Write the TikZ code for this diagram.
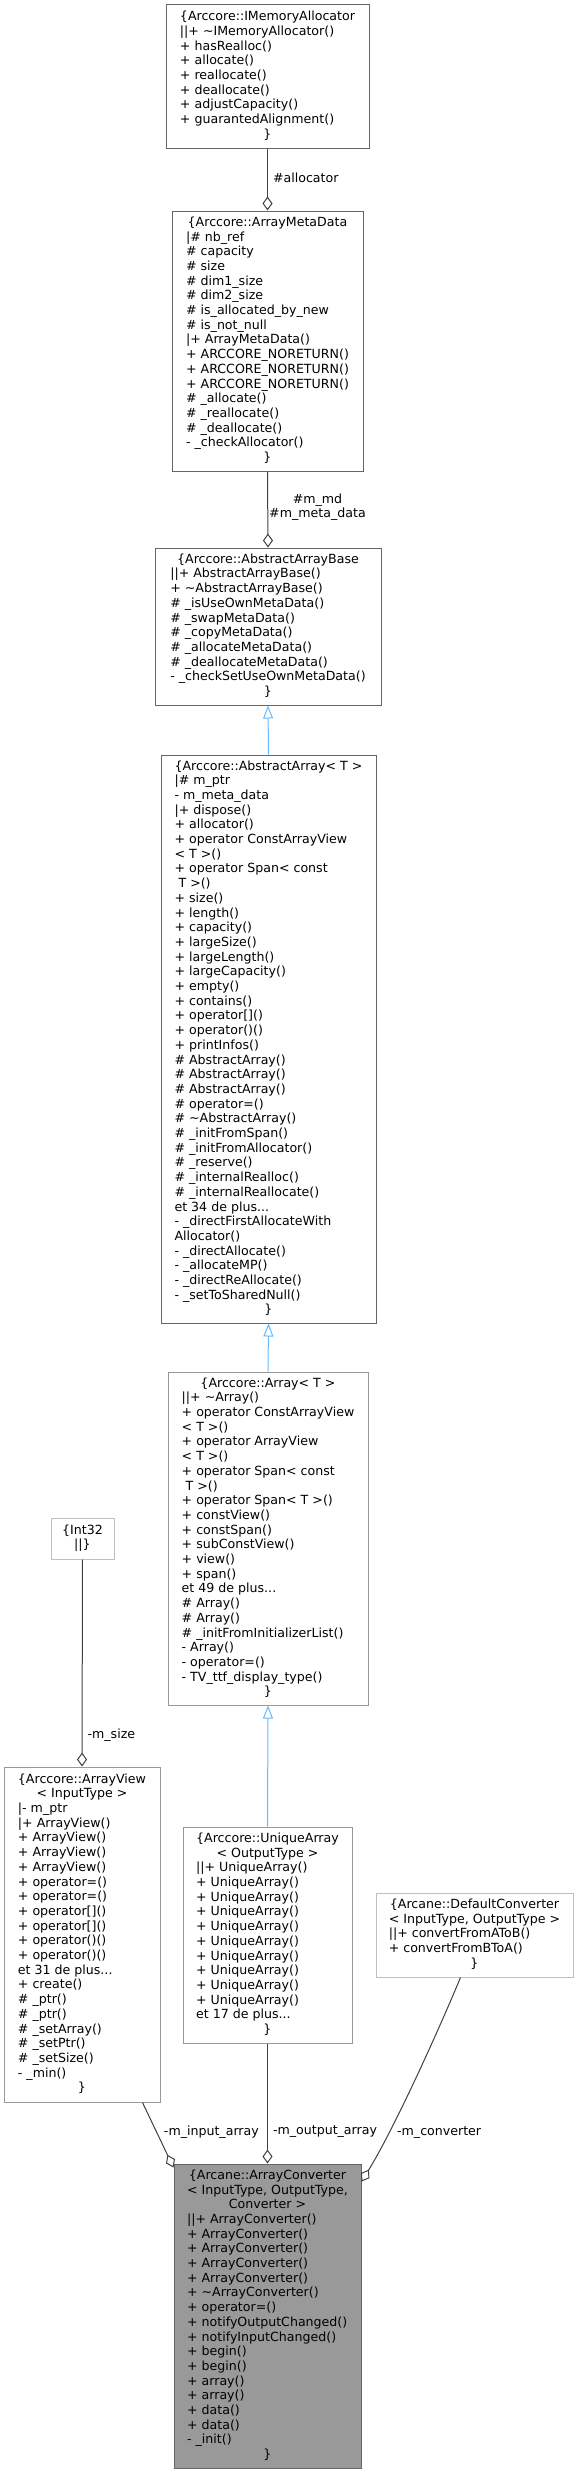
\documentclass[tikz,border=0pt]{standalone}
\usepackage{fontspec}
\setmainfont{DejaVu Sans}
\usepackage{tikz}
\usetikzlibrary{arrows.meta,calc}

\newcommand{\centred}[1]{\multicolumn{1}{@{}c@{}}{#1}}

\definecolor{docline}{HTML}{666666}
\definecolor{instline}{HTML}{999999}
\definecolor{undocline}{HTML}{BFBFBF}
\definecolor{focusfill}{HTML}{999999}
\definecolor{useedge}{HTML}{404040}
\definecolor{baseedge}{HTML}{63B8FF}

\tikzset{
  cbox/.style={draw=docline, fill=white, line width=1pt, inner sep=0pt,
    font=\fontsize{12.6}{14.7}\selectfont},
  inst/.style={cbox, draw=instline},
  undoc/.style={cbox, draw=undocline},
  focus/.style={cbox, fill=focusfill},
  uses/.style={draw=useedge, line width=1pt,
    -{Diamond[open, length=14pt, width=10pt, line width=1pt]}},
  inherits/.style={draw=baseedge, line width=1pt,
    -{Triangle[open, length=13pt, width=10pt, line width=1pt]}},
  lbl/.style={inner sep=0pt, font=\fontsize{12.6}{14.7}\selectfont}
}

\begin{document}
\begin{tikzpicture}[x=1pt, y=-1pt]
            \useasboundingbox (0,0) rectangle (579,2473);

            % classes
            \node[cbox, minimum width=203pt, minimum height=143pt] (ima) at (267.5,76.5) {%
                \begin{tabular}{@{}l@{}}
                    \centred{\{Arccore::IMemoryAllocator}\\
                    ||+ \textasciitilde IMemoryAllocator()\\
                    + hasRealloc()\\
                    + allocate()\\
                    + reallocate()\\
                    + deallocate()\\
                    + adjustCapacity()\\
                    + guarantedAlignment()\\
                    \centred{\}}
                \end{tabular}};

            \node[cbox, minimum width=191pt, minimum height=260pt] (amd) at (267.5,341) {%
                \begin{tabular}{@{}l@{}}
                    \centred{\{Arccore::ArrayMetaData}\\
                    |\# nb\_ref\\
                    \# capacity\\
                    \# size\\
                    \# dim1\_size\\
                    \# dim2\_size\\
                    \# is\_allocated\_by\_new\\
                    \# is\_not\_null\\
                    |+ ArrayMetaData()\\
                    + ARCCORE\_NORETURN()\\
                    + ARCCORE\_NORETURN()\\
                    + ARCCORE\_NORETURN()\\
                    \# \_allocate()\\
                    \# \_reallocate()\\
                    \# \_deallocate()\\
                    - \_checkAllocator()\\
                    \centred{\}}
                \end{tabular}};

            \node[cbox, minimum width=226pt, minimum height=157pt] (aab) at (268,626.5) {%
                \begin{tabular}{@{}l@{}}
                    \centred{\{Arccore::AbstractArrayBase}\\
                    ||+ AbstractArrayBase()\\
                    + \textasciitilde AbstractArrayBase()\\
                    \# \_isUseOwnMetaData()\\
                    \# \_swapMetaData()\\
                    \# \_copyMetaData()\\
                    \# \_allocateMetaData()\\
                    \# \_deallocateMetaData()\\
                    - \_checkSetUseOwnMetaData()\\
                    \centred{\}}
                \end{tabular}};

            \node[cbox, minimum width=215pt, minimum height=568pt] (aa) at (268.5,1039) {%
                \begin{tabular}{@{}l@{}}
                    \centred{\{Arccore::AbstractArray< T >}\\
                    |\# m\_ptr\\
                    - m\_meta\_data\\
                    |+ dispose()\\
                    + allocator()\\
                    + operator ConstArrayView\\
                    < T >()\\
                    + operator Span< const\\
                    \ T >()\\
                    + size()\\
                    + length()\\
                    + capacity()\\
                    + largeSize()\\
                    + largeLength()\\
                    + largeCapacity()\\
                    + empty()\\
                    + contains()\\
                    + operator[]()\\
                    + operator()()\\
                    + printInfos()\\
                    \# AbstractArray()\\
                    \# AbstractArray()\\
                    \# AbstractArray()\\
                    \# operator=()\\
                    \# \textasciitilde AbstractArray()\\
                    \# \_initFromSpan()\\
                    \# \_initFromAllocator()\\
                    \# \_reserve()\\
                    \# \_internalRealloc()\\
                    \# \_internalReallocate()\\
                    et 34 de plus...\\
                    - \_directFirstAllocateWith\\
                    Allocator()\\
                    - \_directAllocate()\\
                    - \_allocateMP()\\
                    - \_directReAllocate()\\
                    - \_setToSharedNull()\\
                    \centred{\}}
                \end{tabular}};

            \node[inst, minimum width=200pt, minimum height=333pt] (arr) at (268,1538.5) {%
                \begin{tabular}{@{}l@{}}
                    \centred{\{Arccore::Array< T >}\\
                    ||+ \textasciitilde Array()\\
                    + operator ConstArrayView\\
                    < T >()\\
                    + operator ArrayView\\
                    < T >()\\
                    + operator Span< const\\
                    \ T >()\\
                    + operator Span< T >()\\
                    + constView()\\
                    + constSpan()\\
                    + subConstView()\\
                    + view()\\
                    + span()\\
                    et 49 de plus...\\
                    \# Array()\\
                    \# Array()\\
                    \# \_initFromInitializerList()\\
                    - Array()\\
                    - operator=()\\
                    - TV\_ttf\_display\_type()\\
                    \centred{\}}
                \end{tabular}};

            \node[undoc, minimum width=63pt, minimum height=41pt] (int) at (82.5,1538.5) {%
                \begin{tabular}{@{}c@{}}
                    \{Int32\\
                    ||\}
                \end{tabular}};

            \node[inst, minimum width=156pt, minimum height=335pt] (av) at (82,1934.5) {%
                \begin{tabular}{@{}l@{}}
                    \centred{\{Arccore::ArrayView}\\
                    \centred{< InputType >}\\
                    |- m\_ptr\\
                    |+ ArrayView()\\
                    + ArrayView()\\
                    + ArrayView()\\
                    + ArrayView()\\
                    + operator=()\\
                    + operator=()\\
                    + operator[]()\\
                    + operator[]()\\
                    + operator()()\\
                    + operator()()\\
                    et 31 de plus...\\
                    + create()\\
                    \# \_ptr()\\
                    \# \_ptr()\\
                    \# \_setArray()\\
                    \# \_setPtr()\\
                    \# \_setSize()\\
                    - \_min()\\
                    \centred{\}}
                \end{tabular}};

            \node[inst, minimum width=169pt, minimum height=216pt] (ua) at (267.5,1935) {%
                \begin{tabular}{@{}l@{}}
                    \centred{\{Arccore::UniqueArray}\\
                    \centred{< OutputType >}\\
                    ||+ UniqueArray()\\
                    + UniqueArray()\\
                    + UniqueArray()\\
                    + UniqueArray()\\
                    + UniqueArray()\\
                    + UniqueArray()\\
                    + UniqueArray()\\
                    + UniqueArray()\\
                    + UniqueArray()\\
                    + UniqueArray()\\
                    et 17 de plus...\\
                    \centred{\}}
                \end{tabular}};

            \node[undoc, minimum width=197pt, minimum height=84pt] (dc) at (474.5,1935) {%
                \begin{tabular}{@{}l@{}}
                    \centred{\{Arcane::DefaultConverter}\\
                    \centred{< InputType, OutputType >}\\
                    ||+ convertFromAToB()\\
                    + convertFromBToA()\\
                    \centred{\}}
                \end{tabular}};

            \node[focus, minimum width=187pt, minimum height=304pt] (ac) at (267.5,2316) {%
                \begin{tabular}{@{}l@{}}
                    \centred{\{Arcane::ArrayConverter}\\
                    \centred{< InputType, OutputType,}\\
                    \centred{Converter >}\\
                    ||+ ArrayConverter()\\
                    + ArrayConverter()\\
                    + ArrayConverter()\\
                    + ArrayConverter()\\
                    + ArrayConverter()\\
                    + \textasciitilde ArrayConverter()\\
                    + operator=()\\
                    + notifyOutputChanged()\\
                    + notifyInputChanged()\\
                    + begin()\\
                    + begin()\\
                    + array()\\
                    + array()\\
                    + data()\\
                    + data()\\
                    - \_init()\\
                    \centred{\}}
                \end{tabular}};

            % members
            \draw[uses] (ima.south) -- (amd.north)
                node[lbl, anchor=west, pos=0.48, xshift=5] (lalloc) {\#allocator};
            \draw[uses] (amd.south) -- (aab.north)
                node[lbl, anchor=west, align=center, pos=0.47, xshift=1] (lmeta) {\#m\_md\\\#m\_meta\_data};
            \draw[uses] (int.south) -- (av.north)
                node[lbl, anchor=west, pos=0.85, xshift=5] (lsize) {-m\_size};
            \draw[uses] ($(av.south east)+(-18,0)$) -- ($(ac.north west)+(0,4)$)
                node[lbl, anchor=west, pos=0.45, xshift=7] (linput) {-m\_input\_array};
            \draw[uses] (ua.south) -- (ac.north)
                node[lbl, anchor=west, pos=0.735, xshift=5] (loutput) {-m\_output\_array};
            \draw[uses] ($(dc.south)+(-14,0)$) .. controls +(-25,60) and +(31,-50) .. ($(ac.north east)+(0,18)$)
                node[lbl, anchor=west, pos=0.73, xshift=8] (lconv) {-m\_converter};

            % bases
            \draw[inherits] (aa.north) -- (aab.south);
            \draw[inherits] (arr.north) -- (aa.south);
            \draw[inherits] (ua.north) -- (arr.south);
        \end{tikzpicture}
\end{document}
